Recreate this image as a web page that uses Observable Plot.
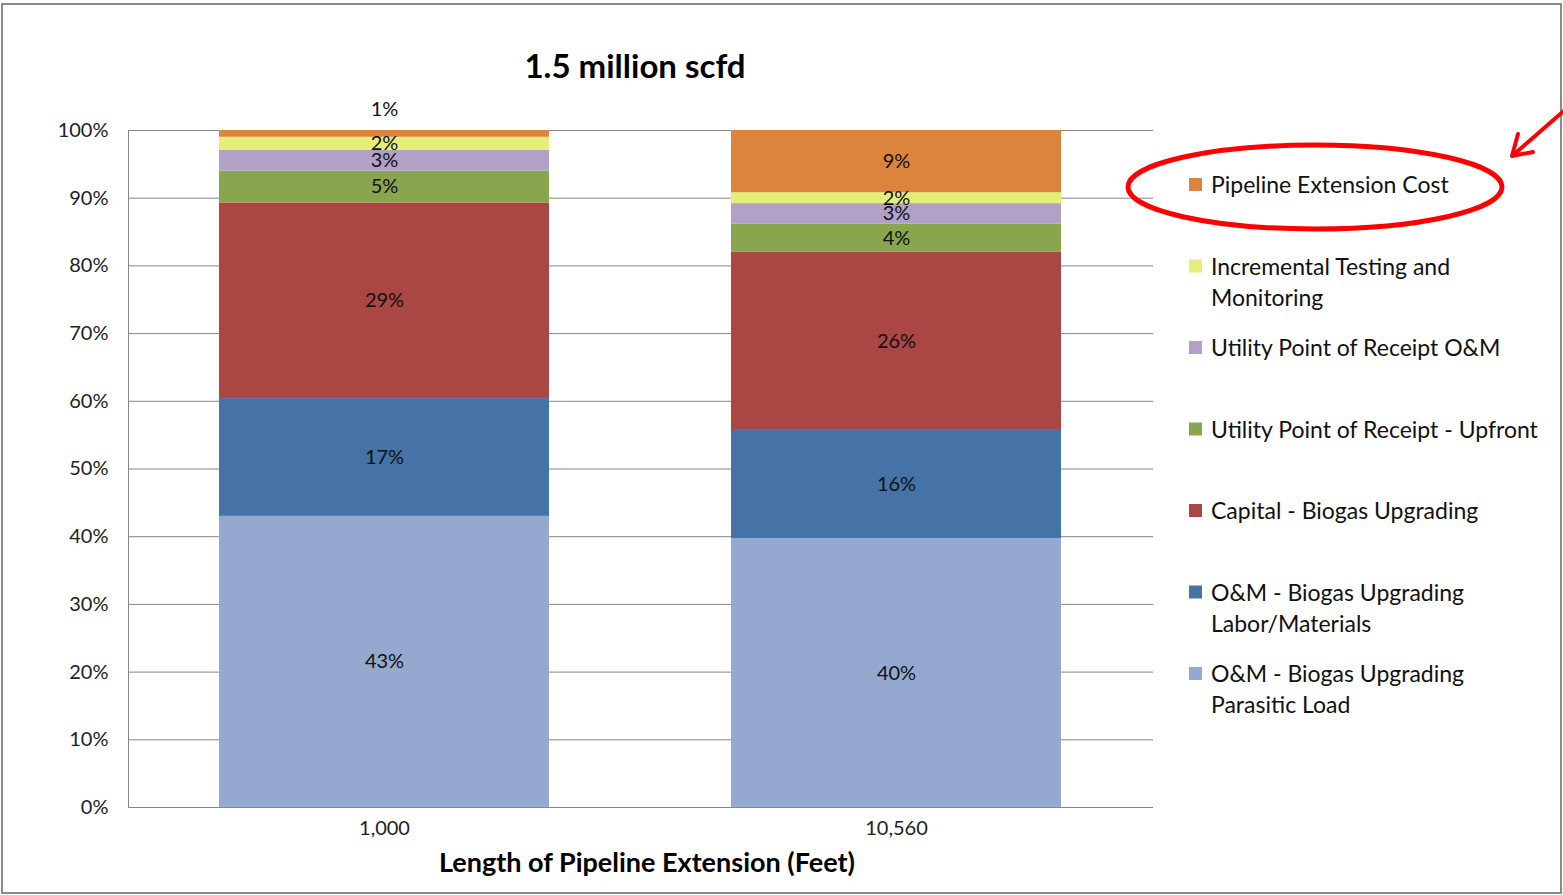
<!DOCTYPE html>
<html><head><meta charset="utf-8">
<script src="https://cdn.jsdelivr.net/npm/d3@7"></script>
<script src="https://cdn.jsdelivr.net/npm/@observablehq/plot@0.6"></script>
<style>
body{margin:0;background:#fff;font-family:Lato,"Open Sans",sans-serif;}
#wrap{position:relative;width:1563px;height:895px;overflow:hidden;}
#wrap svg{position:absolute;left:0;top:0;}
</style></head><body><div id="wrap"></div>
<script>
const categories = ["1,000", "10,560"];
const series = [
  "O&M - Biogas Upgrading Parasitic Load",
  "O&M - Biogas Upgrading Labor/Materials",
  "Capital - Biogas Upgrading",
  "Utility Point of Receipt - Upfront",
  "Utility Point of Receipt O&M",
  "Incremental Testing and Monitoring",
  "Pipeline Extension Cost"
];
const legendLines = [
  ["O&M - Biogas Upgrading", "Parasitic Load"],
  ["O&M - Biogas Upgrading", "Labor/Materials"],
  ["Capital - Biogas Upgrading"],
  ["Utility Point of Receipt - Upfront"],
  ["Utility Point of Receipt O&M"],
  ["Incremental Testing and", "Monitoring"],
  ["Pipeline Extension Cost"]
];
const colors = ["#95A9D0", "#4572A7", "#AA4643", "#89A54E", "#B2A1C7", "#E6EE7A", "#DB843D"];
const values1000 = [43.0, 17.4, 28.9, 4.7, 3.1, 1.9, 1.0];
const values10560 = [39.7, 16.0, 26.3, 4.2, 3.0, 1.6, 9.2];
const yTicks = [0, 10, 20, 30, 40, 50, 60, 70, 80, 90, 100];
const title = "1.5 million scfd";
const xTitle = "Length of Pipeline Extension (Feet)";
const highlighted = "Pipeline Extension Cost";

const rows = [];
[values1000, values10560].forEach((vals, i) =>
  vals.forEach((v, j) => rows.push({cat: categories[i], series: series[j], value: v, label: Math.round(v) + "%"})));
const isAbove = d => d.cat === categories[0] && d.series === highlighted;

const W = 1563, H = 895;
const chart = Plot.plot({
  width: W, height: H,
  marginLeft: 128, marginRight: 410, marginTop: 130, marginBottom: 88,
  style: {fontFamily: "Lato, 'Open Sans', sans-serif", fontSize: "20px", color: "#000", background: "transparent"},
  x: {domain: categories, paddingInner: 0.355, paddingOuter: 0.1775, label: null},
  y: {domain: [0, 100], label: null},
  color: {domain: series, range: colors},
  marks: [
    Plot.gridY(yTicks, {stroke: "#868686", strokeOpacity: 1}),
    Plot.barY(rows, {x: "cat", y: "value", fill: "series", z: "series"}),
    Plot.ruleY([0], {stroke: "#868686"}),
    Plot.frame({anchor: "left", stroke: "#868686"}),
    Plot.axisY(yTicks, {tickSize: 0, tickPadding: 20, tickFormat: d => d + "%", fontSize: 20, fill: "#222", label: null}),
    Plot.axisX({tickSize: 0, tickPadding: 13, fontSize: 20, fill: "#222", label: null}),
    Plot.text(rows, Plot.stackY({x: "cat", y: "value", z: "series", text: d => isAbove(d) ? null : d.label, fontSize: 20, fill: "#111"})),
    Plot.text(rows, Plot.stackY2({x: "cat", y: "value", z: "series", text: d => isAbove(d) ? d.label : null, dy: -21, fontSize: 20, fill: "#111"}))
  ]
});
const wrap = document.getElementById("wrap");
wrap.appendChild(chart);

const ov = d3.select(wrap).append("svg").attr("width", W).attr("height", H)
  .style("font-family", "Lato, 'Open Sans', sans-serif");
ov.append("rect").attr("x", 2).attr("y", 4).attr("width", 1559).attr("height", 889)
  .attr("fill", "none").attr("stroke", "#8a8a8a").attr("stroke-width", 2);
ov.append("text").attr("x", 635).attr("y", 65).attr("text-anchor", "middle").attr("dominant-baseline", "central")
  .attr("font-size", 33).attr("font-weight", "bold").attr("fill", "#000").text(title);
ov.append("text").attr("x", 647).attr("y", 861).attr("text-anchor", "middle").attr("dominant-baseline", "central")
  .attr("font-size", 27).attr("font-weight", "bold").attr("fill", "#000").text(xTitle);

const legendOrder = d3.range(series.length).reverse();
legendOrder.forEach((si, k) => {
  const y0 = 184 + k * 81.5;
  const g = ov.append("g");
  g.append("rect").attr("x", 1189).attr("y", y0 - 6).attr("width", 13).attr("height", 13).attr("fill", colors[si]);
  const t = g.append("text").attr("x", 1211).attr("y", y0).attr("dominant-baseline", "central")
    .attr("font-size", 23).attr("fill", "#111");
  legendLines[si].forEach((ln, li) => t.append("tspan").attr("x", 1211).attr("y", y0 + li * 31).text(ln));
});

// annotation: ellipse and arrow
ov.append("ellipse").attr("cx", 1315).attr("cy", 187).attr("rx", 187).attr("ry", 42)
  .attr("fill", "none").attr("stroke", "#FF0000").attr("stroke-width", 5);
ov.append("path").attr("d", "M1566,109 L1512,156 M1518,134 L1512,156 L1533,152")
  .attr("fill", "none").attr("stroke", "#FF0000").attr("stroke-width", 4).attr("stroke-linecap", "round").attr("stroke-linejoin", "round");
</script></body></html>
